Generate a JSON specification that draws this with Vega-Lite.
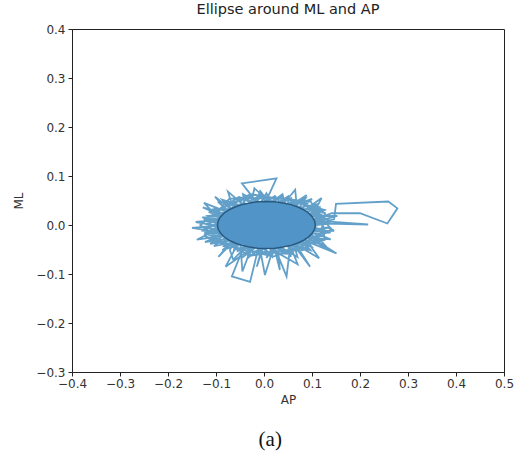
{
  "$schema": "https://vega.github.io/schema/vega-lite/v6.json",
  "width": 432,
  "height": 343,
  "autosize": {"type": "none"},
  "padding": {"left": 72, "top": 29, "right": 28, "bottom": 85},
  "background": "white",
  "title": {"text": "Ellipse around ML and AP", "font": "DejaVu Sans", "fontSize": 14.5, "fontWeight": "normal", "color": "#222", "offset": 6},
  "config": {
    "view": {"stroke": "#222", "strokeWidth": 1},
    "axis": {"labelFont": "DejaVu Sans", "titleFont": "DejaVu Sans", "labelFontSize": 12, "titleFontSize": 12, "titleFontWeight": "normal", "labelColor": "#333", "titleColor": "#333", "domainColor": "#222", "tickColor": "#222", "tickSize": 4, "grid": false}
  },
  "datasets": {
    "path": [
      {"i":1,"ap":0.092,"ml":0.0},
      {"i":2,"ap":0.146,"ml":0.0117},
      {"i":3,"ap":0.15,"ml":0.043},
      {"i":4,"ap":0.259,"ml":0.048},
      {"i":5,"ap":0.278,"ml":0.034},
      {"i":6,"ap":0.257,"ml":0.003},
      {"i":7,"ap":0.2,"ml":0.024},
      {"i":8,"ap":0.141,"ml":0.024},
      {"i":9,"ap":0.09,"ml":0.005},
      {"i":10,"ap":0.131,"ml":0.003},
      {"i":11,"ap":0.217,"ml":0.001},
      {"i":12,"ap":0.095,"ml":0.01},
      {"i":13,"ap":0.0865,"ml":0.014},
      {"i":14,"ap":0.1198,"ml":0.0312},
      {"i":15,"ap":0.0714,"ml":0.0262},
      {"i":16,"ap":0.1,"ml":0.0533},
      {"i":17,"ap":0.0484,"ml":0.0353},
      {"i":18,"ap":0.089,"ml":0.061},
      {"i":19,"ap":0.05,"ml":0.03},
      {"i":20,"ap":0.0503,"ml":0.0586},
      {"i":21,"ap":0.02,"ml":0.0402},
      {"i":22,"ap":0.005,"ml":0.0648},
      {"i":23,"ap":-0.01,"ml":0.0402},
      {"i":24,"ap":-0.046,"ml":0.085},
      {"i":25,"ap":0.026,"ml":0.095},
      {"i":26,"ap":0.0,"ml":0.04},
      {"i":27,"ap":-0.0438,"ml":0.0631},
      {"i":28,"ap":-0.0384,"ml":0.0353},
      {"i":29,"ap":-0.0802,"ml":0.0478},
      {"i":30,"ap":-0.0614,"ml":0.0262},
      {"i":31,"ap":-0.102,"ml":0.058},
      {"i":32,"ap":-0.07,"ml":0.02},
      {"i":33,"ap":-0.1275,"ml":0.036},
      {"i":34,"ap":-0.0765,"ml":0.014},
      {"i":35,"ap":-0.1256,"ml":0.0108},
      {"i":36,"ap":-0.0817,"ml":0.0},
      {"i":37,"ap":-0.15,"ml":-0.006},
      {"i":38,"ap":-0.09,"ml":-0.015},
      {"i":39,"ap":-0.1306,"ml":-0.0112},
      {"i":40,"ap":-0.0765,"ml":-0.014},
      {"i":41,"ap":-0.123,"ml":-0.0348},
      {"i":42,"ap":-0.0614,"ml":-0.0262},
      {"i":43,"ap":-0.095,"ml":-0.065},
      {"i":44,"ap":-0.06,"ml":-0.03},
      {"i":45,"ap":-0.0868,"ml":-0.0515},
      {"i":46,"ap":-0.0384,"ml":-0.0353},
      {"i":47,"ap":-0.067,"ml":-0.105},
      {"i":48,"ap":-0.029,"ml":-0.116},
      {"i":49,"ap":-0.01,"ml":-0.04},
      {"i":50,"ap":-0.0473,"ml":-0.0677},
      {"i":51,"ap":-0.01,"ml":-0.0402},
      {"i":52,"ap":0.002,"ml":-0.102},
      {"i":53,"ap":0.02,"ml":-0.045},
      {"i":54,"ap":0.005,"ml":-0.0672},
      {"i":55,"ap":0.02,"ml":-0.0402},
      {"i":56,"ap":0.047,"ml":-0.105},
      {"i":57,"ap":0.055,"ml":-0.04},
      {"i":58,"ap":0.0556,"ml":-0.0654},
      {"i":59,"ap":0.0484,"ml":-0.0353},
      {"i":60,"ap":0.0935,"ml":-0.0496},
      {"i":61,"ap":0.0714,"ml":-0.0262},
      {"i":62,"ap":0.151,"ml":-0.058},
      {"i":63,"ap":0.09,"ml":-0.02},
      {"i":64,"ap":0.1198,"ml":-0.0312},
      {"i":65,"ap":0.0865,"ml":-0.014},
      {"i":66,"ap":0.146,"ml":-0.0117},
      {"i":67,"ap":0.132,"ml":-0.0052},
      {"i":68,"ap":0.0937,"ml":-0.0112},
      {"i":69,"ap":0.139,"ml":-0.0294},
      {"i":70,"ap":0.0802,"ml":-0.0248},
      {"i":71,"ap":0.0988,"ml":-0.0441},
      {"i":72,"ap":0.0577,"ml":-0.0354},
      {"i":73,"ap":0.096,"ml":-0.085},
      {"i":74,"ap":0.06,"ml":-0.03},
      {"i":75,"ap":0.0697,"ml":-0.0653},
      {"i":76,"ap":0.0288,"ml":-0.0417},
      {"i":77,"ap":0.033,"ml":-0.092},
      {"i":78,"ap":0.02,"ml":-0.04},
      {"i":79,"ap":0.017,"ml":-0.0646},
      {"i":80,"ap":-0.003,"ml":-0.043},
      {"i":81,"ap":-0.015,"ml":-0.085},
      {"i":82,"ap":0.0,"ml":-0.04},
      {"i":83,"ap":-0.0333,"ml":-0.0672},
      {"i":84,"ap":-0.0338,"ml":-0.0392},
      {"i":85,"ap":-0.064,"ml":-0.071},
      {"i":86,"ap":-0.0711,"ml":-0.0511},
      {"i":87,"ap":-0.0599,"ml":-0.0305},
      {"i":88,"ap":-0.112,"ml":-0.0385},
      {"i":89,"ap":-0.0782,"ml":-0.0183},
      {"i":90,"ap":-0.1231,"ml":-0.0161},
      {"i":91,"ap":-0.0864,"ml":-0.0038},
      {"i":92,"ap":-0.1423,"ml":0.0061},
      {"i":93,"ap":-0.0837,"ml":0.0112},
      {"i":94,"ap":-0.1152,"ml":0.0264},
      {"i":95,"ap":-0.0702,"ml":0.0248},
      {"i":96,"ap":-0.096,"ml":0.0475},
      {"i":97,"ap":-0.0477,"ml":0.0354},
      {"i":98,"ap":-0.051,"ml":0.0566},
      {"i":99,"ap":-0.0188,"ml":0.0417},
      {"i":100,"ap":-0.0079,"ml":0.0693},
      {"i":101,"ap":0.013,"ml":0.043},
      {"i":102,"ap":0.0393,"ml":0.0603},
      {"i":103,"ap":0.0438,"ml":0.0392},
      {"i":104,"ap":0.0869,"ml":0.055},
      {"i":105,"ap":0.0699,"ml":0.0305},
      {"i":106,"ap":0.1178,"ml":0.0372},
      {"i":107,"ap":0.0882,"ml":0.0183},
      {"i":108,"ap":0.1528,"ml":0.0186},
      {"i":109,"ap":0.0965,"ml":0.0038},
      {"i":110,"ap":0.1373,"ml":0.0044},
      {"i":111,"ap":0.0994,"ml":0.0103},
      {"i":112,"ap":0.1185,"ml":0.0216},
      {"i":113,"ap":0.0881,"ml":0.0235},
      {"i":114,"ap":0.1144,"ml":0.0432},
      {"i":115,"ap":0.0686,"ml":0.0344},
      {"i":116,"ap":0.0726,"ml":0.0509},
      {"i":117,"ap":0.0429,"ml":0.042},
      {"i":118,"ap":0.0383,"ml":0.0629},
      {"i":119,"ap":0.0134,"ml":0.0454},
      {"i":120,"ap":-0.0043,"ml":0.0622},
      {"i":121,"ap":-0.0168,"ml":0.0444},
      {"i":122,"ap":-0.0409,"ml":0.0534},
      {"i":123,"ap":-0.0449,"ml":0.0391},
      {"i":124,"ap":-0.0868,"ml":0.0515},
      {"i":125,"ap":-0.0681,"ml":0.0299},
      {"i":126,"ap":-0.1031,"ml":0.0318},
      {"i":127,"ap":-0.0842,"ml":0.0178},
      {"i":128,"ap":-0.1286,"ml":0.0157},
      {"i":129,"ap":-0.0915,"ml":0.004},
      {"i":130,"ap":-0.1273,"ml":-0.0044},
      {"i":131,"ap":-0.0894,"ml":-0.0103},
      {"i":132,"ap":-0.1085,"ml":-0.0216},
      {"i":133,"ap":-0.0781,"ml":-0.0235},
      {"i":134,"ap":-0.1044,"ml":-0.0432},
      {"i":135,"ap":-0.0586,"ml":-0.0344},
      {"i":136,"ap":-0.0626,"ml":-0.0509},
      {"i":137,"ap":-0.0329,"ml":-0.042},
      {"i":138,"ap":-0.0283,"ml":-0.0629},
      {"i":139,"ap":-0.0034,"ml":-0.0454},
      {"i":140,"ap":0.0143,"ml":-0.0622},
      {"i":141,"ap":0.0268,"ml":-0.0444},
      {"i":142,"ap":0.0509,"ml":-0.0534},
      {"i":143,"ap":0.0549,"ml":-0.0391},
      {"i":144,"ap":0.0968,"ml":-0.0515},
      {"i":145,"ap":0.0781,"ml":-0.0299},
      {"i":146,"ap":0.1131,"ml":-0.0318},
      {"i":147,"ap":0.0942,"ml":-0.0178},
      {"i":148,"ap":0.1386,"ml":-0.0157},
      {"i":149,"ap":0.1015,"ml":-0.004},
      {"i":150,"ap":0.1366,"ml":0.0076},
      {"i":151,"ap":0.0769,"ml":0.0466},
      {"i":152,"ap":-0.0203,"ml":0.0613},
      {"i":153,"ap":-0.0988,"ml":0.0305},
      {"i":154,"ap":-0.1231,"ml":-0.0161},
      {"i":155,"ap":-0.0525,"ml":-0.0509},
      {"i":156,"ap":0.0482,"ml":-0.059},
      {"i":157,"ap":0.1168,"ml":-0.0234},
      {"i":158,"ap":0.1271,"ml":0.0244},
      {"i":159,"ap":0.0469,"ml":0.0541},
      {"i":160,"ap":-0.0552,"ml":0.0556},
      {"i":161,"ap":-0.1127,"ml":0.0159},
      {"i":162,"ap":-0.1087,"ml":-0.0321},
      {"i":163,"ap":-0.0204,"ml":-0.0563},
      {"i":164,"ap":0.0811,"ml":-0.0511},
      {"i":165,"ap":0.1262,"ml":-0.008},
      {"i":166,"ap":0.1066,"ml":0.0276},
      {"i":167,"ap":0.1414,"ml":-0.009},
      {"i":168,"ap":0.0865,"ml":-0.0397},
      {"i":169,"ap":0.0194,"ml":-0.0644},
      {"i":170,"ap":-0.0572,"ml":-0.0468},
      {"i":171,"ap":-0.1244,"ml":-0.0222},
      {"i":172,"ap":-0.1066,"ml":0.0171},
      {"i":173,"ap":-0.072,"ml":0.0537},
      {"i":174,"ap":0.0132,"ml":0.0551},
      {"i":175,"ap":0.0971,"ml":0.0482},
      {"i":176,"ap":0.1205,"ml":0.0096},
      {"i":177,"ap":0.1266,"ml":-0.0304},
      {"i":178,"ap":0.0527,"ml":-0.0504},
      {"i":179,"ap":-0.0283,"ml":-0.0629},
      {"i":180,"ap":-0.0874,"ml":-0.034},
      {"i":181,"ap":-0.1327,"ml":0.0},
      {"i":182,"ap":-0.0874,"ml":0.034},
      {"i":183,"ap":-0.0283,"ml":0.0629},
      {"i":184,"ap":0.0527,"ml":0.0504},
      {"i":185,"ap":0.1266,"ml":0.0304},
      {"i":186,"ap":0.0,"ml":-0.03},
      {"i":187,"ap":-0.08,"ml":-0.085},
      {"i":188,"ap":-0.05,"ml":-0.03},
      {"i":189,"ap":-0.045,"ml":-0.095},
      {"i":190,"ap":-0.02,"ml":-0.03},
      {"i":191,"ap":0.07,"ml":-0.08},
      {"i":192,"ap":0.05,"ml":-0.03},
      {"i":193,"ap":0.115,"ml":-0.068},
      {"i":194,"ap":0.08,"ml":-0.02},
      {"i":195,"ap":0.135,"ml":-0.05},
      {"i":196,"ap":0.09,"ml":0.0},
      {"i":197,"ap":0.12,"ml":0.055},
      {"i":198,"ap":0.07,"ml":0.02},
      {"i":199,"ap":0.065,"ml":0.072},
      {"i":200,"ap":0.03,"ml":0.03},
      {"i":201,"ap":-0.02,"ml":0.075},
      {"i":202,"ap":-0.03,"ml":0.03},
      {"i":203,"ap":-0.075,"ml":0.068},
      {"i":204,"ap":-0.06,"ml":0.02},
      {"i":205,"ap":-0.125,"ml":0.045},
      {"i":206,"ap":-0.08,"ml":0.0},
      {"i":207,"ap":-0.14,"ml":-0.03},
      {"i":208,"ap":-0.07,"ml":-0.02},
      {"i":209,"ap":0.1324,"ml":0.0021},
      {"i":210,"ap":0.1054,"ml":0.0083},
      {"i":211,"ap":0.1263,"ml":0.0185},
      {"i":212,"ap":0.0967,"ml":0.021},
      {"i":213,"ap":0.1107,"ml":0.0336},
      {"i":214,"ap":0.0808,"ml":0.0321},
      {"i":215,"ap":0.087,"ml":0.046},
      {"i":216,"ap":0.059,"ml":0.0407},
      {"i":217,"ap":0.0569,"ml":0.0548},
      {"i":218,"ap":0.0331,"ml":0.0461},
      {"i":219,"ap":0.0227,"ml":0.0594},
      {"i":220,"ap":0.005,"ml":0.048},
      {"i":221,"ap":-0.0127,"ml":0.0594},
      {"i":222,"ap":-0.0231,"ml":0.0461},
      {"i":223,"ap":-0.0469,"ml":0.0548},
      {"i":224,"ap":-0.049,"ml":0.0407},
      {"i":225,"ap":-0.077,"ml":0.046},
      {"i":226,"ap":-0.0708,"ml":0.0321},
      {"i":227,"ap":-0.1007,"ml":0.0336},
      {"i":228,"ap":-0.0867,"ml":0.021},
      {"i":229,"ap":-0.1163,"ml":0.0185},
      {"i":230,"ap":-0.0954,"ml":0.0083},
      {"i":231,"ap":-0.1224,"ml":0.0021},
      {"i":232,"ap":-0.0964,"ml":-0.005},
      {"i":233,"ap":-0.1187,"ml":-0.0145},
      {"i":234,"ap":-0.0896,"ml":-0.018},
      {"i":235,"ap":-0.1054,"ml":-0.03},
      {"i":236,"ap":-0.0754,"ml":-0.0296},
      {"i":237,"ap":-0.0836,"ml":-0.0432},
      {"i":238,"ap":-0.055,"ml":-0.0388},
      {"i":239,"ap":-0.0549,"ml":-0.053},
      {"i":240,"ap":-0.0299,"ml":-0.0451},
      {"i":241,"ap":-0.0215,"ml":-0.0587},
      {"i":242,"ap":-0.0021,"ml":-0.0479},
      {"i":243,"ap":0.0139,"ml":-0.0599},
      {"i":244,"ap":0.0262,"ml":-0.0469},
      {"i":245,"ap":0.0486,"ml":-0.0564},
      {"i":246,"ap":0.0529,"ml":-0.0424},
      {"i":247,"ap":0.0799,"ml":-0.0485},
      {"i":248,"ap":0.0759,"ml":-0.0345},
      {"i":249,"ap":0.1055,"ml":-0.0369},
      {"i":250,"ap":0.0933,"ml":-0.024},
      {"i":251,"ap":0.1232,"ml":-0.0225},
      {"i":252,"ap":0.104,"ml":-0.0116},
      {"i":253,"ap":0.1318,"ml":-0.0063}
    ],
    "ellipse": [
      {"i":0,"ap":0.107,"ml":0.0},
      {"i":1,"ap":0.1054,"ml":0.0083},
      {"i":2,"ap":0.1008,"ml":0.0164},
      {"i":3,"ap":0.0933,"ml":0.024},
      {"i":4,"ap":0.0831,"ml":0.0309},
      {"i":5,"ap":0.0706,"ml":0.0368},
      {"i":6,"ap":0.056,"ml":0.0416},
      {"i":7,"ap":0.0399,"ml":0.0451},
      {"i":8,"ap":0.0227,"ml":0.0473},
      {"i":9,"ap":0.005,"ml":0.048},
      {"i":10,"ap":-0.0127,"ml":0.0473},
      {"i":11,"ap":-0.0299,"ml":0.0451},
      {"i":12,"ap":-0.046,"ml":0.0416},
      {"i":13,"ap":-0.0606,"ml":0.0368},
      {"i":14,"ap":-0.0731,"ml":0.0309},
      {"i":15,"ap":-0.0833,"ml":0.024},
      {"i":16,"ap":-0.0908,"ml":0.0164},
      {"i":17,"ap":-0.0954,"ml":0.0083},
      {"i":18,"ap":-0.097,"ml":0.0},
      {"i":19,"ap":-0.0954,"ml":-0.0083},
      {"i":20,"ap":-0.0908,"ml":-0.0164},
      {"i":21,"ap":-0.0833,"ml":-0.024},
      {"i":22,"ap":-0.0731,"ml":-0.0309},
      {"i":23,"ap":-0.0606,"ml":-0.0368},
      {"i":24,"ap":-0.046,"ml":-0.0416},
      {"i":25,"ap":-0.0299,"ml":-0.0451},
      {"i":26,"ap":-0.0127,"ml":-0.0473},
      {"i":27,"ap":0.005,"ml":-0.048},
      {"i":28,"ap":0.0227,"ml":-0.0473},
      {"i":29,"ap":0.0399,"ml":-0.0451},
      {"i":30,"ap":0.056,"ml":-0.0416},
      {"i":31,"ap":0.0706,"ml":-0.0368},
      {"i":32,"ap":0.0831,"ml":-0.0309},
      {"i":33,"ap":0.0933,"ml":-0.024},
      {"i":34,"ap":0.1008,"ml":-0.0164},
      {"i":35,"ap":0.1054,"ml":-0.0083},
      {"i":36,"ap":0.107,"ml":0.0}
    ],
    "caption": [{"label": "(a)"}]
  },
  "layer": [
    {
      "data": {"name": "path"},
      "mark": {"type": "line", "color": "#1f77b4", "opacity": 0.7, "strokeWidth": 1.8, "strokeJoin": "miter"},
      "encoding": {
        "x": {"field": "ap", "type": "quantitative", "title": "AP",
              "scale": {"domain": [-0.4, 0.5], "nice": false, "zero": false},
              "axis": {"values": [-0.4,-0.3,-0.2,-0.1,0.0,0.1,0.2,0.3,0.4,0.5], "format": ".1f", "labelPadding": 2, "titlePadding": 5, "labelFlush": false}},
        "y": {"field": "ml", "type": "quantitative", "title": "ML",
              "scale": {"domain": [-0.3, 0.4], "nice": false, "zero": false},
              "axis": {"values": [-0.3,-0.2,-0.1,0.0,0.1,0.2,0.3,0.4], "format": ".1f", "labelPadding": 3, "titlePadding": 10, "labelFlush": false}},
        "order": {"field": "i", "type": "quantitative"}
      }
    },
    {
      "data": {"name": "ellipse"},
      "mark": {"type": "line", "fill": "#5094c8", "stroke": "#2a5a80", "strokeWidth": 1.5},
      "encoding": {
        "x": {"field": "ap", "type": "quantitative"},
        "y": {"field": "ml", "type": "quantitative"},
        "order": {"field": "i", "type": "quantitative"}
      }
    },
    {
      "data": {"name": "caption"},
      "mark": {"type": "text", "font": "Liberation Serif", "fontSize": 21, "color": "#111", "clip": false, "baseline": "middle", "align": "center"},
      "encoding": {
        "x": {"datum": 0.013, "type": "quantitative"},
        "y": {"datum": -0.438, "type": "quantitative"},
        "text": {"field": "label"}
      }
    }
  ]
}
